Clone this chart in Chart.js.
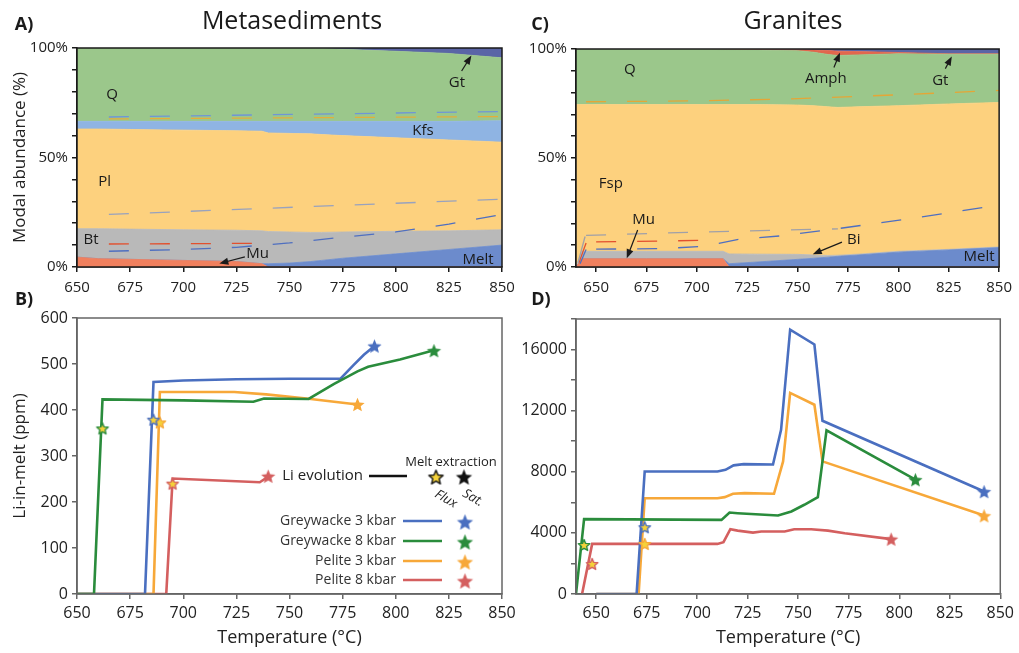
<!DOCTYPE html>
<html>
<head>
<meta charset="utf-8">
<script src="https://cdn.jsdelivr.net/npm/chart.js@4.4.0/dist/chart.umd.min.js"></script>
<style>
  html, body { margin: 0; padding: 0; background: #fff; }
  #wrap { position: relative; width: 1019px; height: 653px; overflow: hidden;
          font-family: "Open Sans", sans-serif; color: #1a1a1a; }
  #wrap canvas { position: absolute; left: 0; top: 0; }
  .t { position: absolute; transform: translate(-50%, -50%); white-space: nowrap; }
  .panel { font-weight: 700; font-size: 18px; }
  .title { font-size: 25px; }
</style>
</head>
<body>
<div id="wrap">
  <canvas id="cA" width="1019" height="653"></canvas>
  <canvas id="cC" width="1019" height="653"></canvas>
  <canvas id="cB" width="1019" height="653"></canvas>
  <canvas id="cD" width="1019" height="653"></canvas>
  <div class="t panel" style="left:24px;top:23px">A)</div>
  <div class="t title" style="left:292px;top:19px">Metasediments</div>
  <div class="t panel" style="left:540px;top:23px">C)</div>
  <div class="t title" style="left:793px;top:19px">Granites</div>
  <div class="t panel" style="left:24px;top:298px">B)</div>
  <div class="t panel" style="left:541px;top:298px">D)</div>
</div>
<script>
// ---------- axis ticks ----------
const tempTicks = [650, 675, 700, 725, 750, 775, 800, 825, 850];
const modalTicks = [0, 10, 20, 30, 40, 50, 60, 70, 80, 90, 100];
const modalLabelled = [0, 50, 100];
const liTicksB = [0, 100, 200, 300, 400, 500, 600];
const liTicksD = [0, 2000, 4000, 6000, 8000, 10000, 12000, 14000, 16000, 18000];
const liLabelledD = [0, 4000, 8000, 12000, 16000];

// ---------- A) Metasediments: modal abundance (%) per phase ----------
const metaT    = [650, 660, 675, 700, 725, 737, 740, 750, 760, 765, 775, 800, 825, 850];
const metaMu   = [4.5, 3.8, 3.5, 3.0, 2.5, 1.5, 0, 0, 0, 0, 0, 0, 0, 0];
const metaMelt = [0, 0, 0, 0, 0, 0, 1.5, 1.8, 2.5, 3.0, 4.0, 6.0, 8.0, 10.0];
const metaBt   = [13.0, 13.7, 13.8, 14.0, 14.3, 15.0, 14.7, 14.2, 13.3, 12.8, 12.0, 10.3, 8.5, 7.0];
const metaPl   = [45.5, 45.5, 45.5, 45.5, 45.4, 45.5, 45.0, 45.0, 45.0, 44.7, 44.0, 42.7, 41.5, 40.0];
const metaKfs  = [3.5, 3.5, 3.7, 4.0, 4.3, 4.5, 5.3, 5.5, 5.7, 6.0, 6.5, 7.5, 8.5, 9.8];
const metaQ    = [33.5, 33.5, 33.5, 33.5, 33.5, 33.5, 33.5, 33.5, 33.5, 33.3, 32.9, 32.0, 31.0, 28.7];
const metaGt   = [0, 0, 0, 0, 0, 0, 0, 0, 0, 0.2, 0.6, 1.5, 2.5, 4.5];
// dashed phase boundaries drawn over the areas
const metaDashBlueHi = [[665, 68.5], [850, 71.0]];
const metaDashGoldHi = [[665, 67.6], [850, 68.7]];
const metaDashGrey   = [[665, 24.0], [850, 31.0]];
const metaDashRed    = [[665, 10.5], [735, 10.8]];
const metaDashBlueLo = [[665, 7.2], [700, 8.0], [725, 9.0], [750, 11.0], [775, 13.6], [800, 16.0], [825, 19.6], [850, 24.0]];

// ---------- C) Granites: modal abundance (%) per phase ----------
const granT    = [640, 643, 675, 700, 713, 716, 730, 750, 758, 765, 770, 780, 800, 825, 850];
const granMu   = [0, 3.8, 3.8, 3.8, 3.8, 0, 0, 0, 0, 0, 0, 0, 0, 0, 0];
const granMelt = [0, 0, 0, 0, 0, 1.5, 2.3, 3.5, 4.0, 4.5, 4.9, 5.5, 6.8, 7.8, 8.9];
const granBi   = [0, 3.4, 3.4, 3.4, 3.4, 4.5, 3.6, 2.3, 1.5, 0.8, 0.5, 0.4, 0.4, 0.3, 0.3];
const granFsp  = [74.5, 67.3, 67.3, 67.3, 67.3, 68.5, 68.6, 68.5, 68.5, 68.2, 67.8, 67.6, 66.8, 66.7, 66.3];
const granQ    = [25.5, 25.5, 25.5, 25.5, 25.2, 25.1, 25.0, 24.9, 24.5, 24.0, 23.8, 23.8, 23.8, 22.8, 22.1];
const granAmph = [0, 0, 0, 0, 0, 0.2, 0.2, 0.4, 1.0, 1.8, 2.0, 1.5, 0.6, 0.2, 0.2];
const granGt   = [0, 0, 0, 0, 0.3, 0.2, 0.3, 0.4, 0.5, 0.7, 1.0, 1.2, 1.6, 2.2, 2.2];
const granDashGold = [[645, 75.8], [700, 76.2], [750, 77.2], [800, 79.0], [850, 81.0]];
const granDashGrey = [[645, 14.5], [700, 16.0], [770, 17.5]];
const granDashRed  = [[650, 11.5], [710, 12.3]];
const granDashBlue = [[650, 8.2], [682, 8.4], [704, 9.5], [720, 12.6], [742, 14.3], [770, 17.6], [803, 21.8], [850, 28.4]];
// short solid starts of the boundaries at the solidus edge
const granEdgeGrey = [[641, 2], [644.5, 14]];
const granEdgeRed  = [[641.5, 2], [645, 11]];
const granEdgeBlue = [[642, 1.5], [645, 8]];

// ---------- B) Li-in-melt (ppm), metasediments ----------
const gw3B = [[650, 0], [682, 0], [686, 461], [700, 464], [725, 467], [750, 468], [774, 468], [780, 497], [785, 520], [790, 539]];
const gw8B = [[650, 0], [658, 0], [662, 423], [700, 421], [733, 418], [738, 425], [759, 424], [771, 457], [782, 484], [787, 494], [802, 510], [818, 530]];
const pe3B = [[650, 0], [686, 0], [689, 439], [710, 439], [724, 439], [739, 434], [758, 425], [782, 412]];
const pe8B = [[650, 0], [692, 0], [695, 251], [736, 243], [740, 255]];
const satB  = { gw3: [790, 539], gw8: [818, 529], pe3: [782, 412], pe8: [740, 256] };
const fluxB = { gw3: [686, 379], gw8: [662, 360], pe3: [689, 373], pe8: [695, 240] };

// ---------- D) Li-in-melt (ppm), granites ----------
const gw3D = [[650, 0], [670, 0], [674, 8020], [710, 8020], [714, 8130], [718, 8420], [723, 8500], [737.5, 8480], [741.5, 10750], [746, 17300], [758, 16330], [762, 11340], [842, 6710]];
const gw8D = [[640, 0], [644, 4900], [712, 4850], [716, 5330], [720, 5290], [740, 5140], [746.6, 5400], [753, 5840], [759.7, 6340], [764, 10710], [808, 7480]];
const pe3D = [[650, 0], [671, 0], [674, 6270], [710, 6270], [713.6, 6340], [717.7, 6560], [723.5, 6600], [738, 6560], [742.5, 8680], [746, 13160], [758, 12390], [762, 8680], [842, 5140]];
const pe8D = [[643, 0], [648, 3280], [710, 3280], [713, 3390], [716.4, 4240], [720, 4150], [727.6, 4020], [731.7, 4090], [743.3, 4090], [748, 4240], [756.4, 4240], [764.7, 4150], [773, 3980], [796, 3590]];
const satD  = { gw3: [842, 6700], gw8: [808, 7480], pe3: [842, 5120], pe8: [796, 3590] };
const fluxD = { gw3: [674, 4370], gw8: [644, 3210], pe3: [674, 3280], pe8: [648, 1970] };

const seriesNames = ['Greywacke 3 kbar', 'Greywacke 8 kbar', 'Pelite 3 kbar', 'Pelite 8 kbar'];

// ---------- styling ----------
const FONT = '"Open Sans", sans-serif';
const COL = { gw3: '#4a6fc0', gw8: '#2a8c3c', pe3: '#f7a839', pe8: '#d45f5f' };
const FLUX_FILL = '#f5d23a';
const PHASE = {
  Q: '#9bc78b', Kfs: '#8fb4e3', Pl: '#fdd17e', Bt: '#b9b9b9', Mu: '#f0805e',
  Melt: '#6c8bcc', Gt: '#5a65a6', Amph: '#e2674e'
};

function star(R, fill, stroke, lw) {
  const pad = Math.ceil(lw || 0) + 1;
  const s = Math.ceil(2 * R) + 2 * pad;
  const c = document.createElement('canvas');
  c.width = s; c.height = s;
  const g = c.getContext('2d');
  const cx = s / 2, cy = s / 2 + R * 0.1;
  g.beginPath();
  for (let k = 0; k < 10; k++) {
    const r = k % 2 ? R * 0.45 : R;
    const a = -Math.PI / 2 + k * Math.PI / 5;
    g.lineTo(cx + r * Math.cos(a), cy + r * Math.sin(a));
  }
  g.closePath();
  g.fillStyle = fill; g.fill();
  if (stroke) { g.strokeStyle = stroke; g.lineWidth = lw; g.lineJoin = 'round'; g.stroke(); }
  return c;
}

const pts = arr => arr.map(p => ({ x: p[0], y: p[1] }));
const zipT = (T, v) => T.map((t, i) => ({ x: t, y: v[i] }));

function frame(color) {
  return {
    id: 'frame',
    afterDraw(chart) {
      const a = chart.chartArea, ctx = chart.ctx;
      ctx.save();
      ctx.strokeStyle = color; ctx.lineWidth = 1.5;
      ctx.strokeRect(a.left, a.top, a.right - a.left, a.bottom - a.top);
      ctx.restore();
    }
  };
}

// text labels and arrows placed in data coordinates
function notes(texts, arrows) {
  return {
    id: 'notes',
    afterDraw(chart) {
      const ctx = chart.ctx, sx = chart.scales.x, sy = chart.scales.y;
      ctx.save();
      ctx.fillStyle = '#1a1a1a';
      ctx.textAlign = 'center'; ctx.textBaseline = 'middle';
      ctx.font = '15px ' + FONT;
      texts.forEach(t => ctx.fillText(t[0], sx.getPixelForValue(t[1]), sy.getPixelForValue(t[2])));
      arrows.forEach(a => {
        const x1 = sx.getPixelForValue(a[0]), y1 = sy.getPixelForValue(a[1]);
        const x2 = sx.getPixelForValue(a[2]), y2 = sy.getPixelForValue(a[3]);
        const ang = Math.atan2(y2 - y1, x2 - x1);
        ctx.strokeStyle = '#1a1a1a'; ctx.lineWidth = 1.2;
        ctx.beginPath(); ctx.moveTo(x1, y1);
        ctx.lineTo(x2 - 6 * Math.cos(ang), y2 - 6 * Math.sin(ang)); ctx.stroke();
        ctx.beginPath();
        ctx.moveTo(x2, y2);
        ctx.lineTo(x2 - 9 * Math.cos(ang) + 3.5 * Math.sin(ang), y2 - 9 * Math.sin(ang) - 3.5 * Math.cos(ang));
        ctx.lineTo(x2 - 9 * Math.cos(ang) - 3.5 * Math.sin(ang), y2 - 9 * Math.sin(ang) + 3.5 * Math.cos(ang));
        ctx.closePath(); ctx.fill();
      });
      ctx.restore();
    }
  };
}

function xAxis(min, color, fontSize, H, pad, title) {
  return {
    type: 'linear', min: min, max: 850,
    afterBuildTicks: s => { s.ticks = tempTicks.map(v => ({ value: v })); },
    afterFit: s => { s.height = H; },
    grid: { drawOnChartArea: false, tickLength: 5, color: color, lineWidth: 1.5 },
    border: { color: color, width: 1.5 },
    ticks: { font: { family: FONT, size: fontSize }, color: '#222', padding: pad, maxRotation: 0, autoSkip: false,
             callback: v => String(v) },
    title: title ? { display: true, text: title, font: { family: FONT, size: 18 }, color: '#222',
                     padding: { top: 4, bottom: 4 } } : { display: false }
  };
}

function yAxis(ticks, labelFn, color, fontSize, W, title, extra) {
  return Object.assign({
    afterBuildTicks: s => { s.ticks = ticks.map(v => ({ value: v })); },
    afterFit: s => { s.width = W; },
    grid: { drawOnChartArea: false, tickLength: 5, color: color, lineWidth: 1.5 },
    border: { color: color, width: 1.5 },
    ticks: { font: { family: FONT, size: fontSize }, color: '#222', padding: 4, autoSkip: false, callback: labelFn },
    title: title ? { display: true, text: title, font: { family: FONT, size: 17 }, color: '#222',
                     padding: { top: 4, bottom: 4 } } : { display: false }
  }, extra);
}

function area(label, T, vals, color, first) {
  return { label, data: zipT(T, vals), backgroundColor: color, borderColor: color, borderWidth: 0.8,
           fill: first ? 'origin' : '-1', pointRadius: 0, tension: 0, yAxisID: 'y' };
}
// boundary lines sit on an unstacked twin axis and are drawn above the areas
function dash(data, color, solid) {
  return { data: pts(data), borderColor: color, borderWidth: 1.3, borderDash: solid ? [] : [20, 21], fill: false,
           pointRadius: 0, tension: 0, yAxisID: 'y2', order: -1 };
}

const common = {
  responsive: false, animation: false, devicePixelRatio: 1,
  plugins: { legend: { display: false }, tooltip: { enabled: false } },
  events: []
};

// ---------- A) ----------
new Chart(document.getElementById('cA'), {
  type: 'line',
  data: { datasets: [
    area('Mu', metaT, metaMu, PHASE.Mu, true),
    area('Melt', metaT, metaMelt, PHASE.Melt),
    area('Bt', metaT, metaBt, PHASE.Bt),
    area('Pl', metaT, metaPl, PHASE.Pl),
    area('Kfs', metaT, metaKfs, PHASE.Kfs),
    area('Q', metaT, metaQ, PHASE.Q),
    area('Gt', metaT, metaGt, PHASE.Gt),
    dash(metaDashBlueHi, '#6f96d6'),
    dash(metaDashGoldHi, '#e5ad3a'),
    dash(metaDashGrey, '#98a2be'),
    dash(metaDashRed, '#e2502e'),
    dash(metaDashBlueLo, '#4f6fc0')
  ]},
  options: Object.assign({}, common, {
    layout: { padding: { left: 6, right: 517, top: 48, bottom: 356 } },
    scales: {
      x: xAxis(650, '#1a1a1a', 15, 30, 7),
      y: yAxis(modalTicks, v => modalLabelled.includes(v) ? v + '%' : '', '#1a1a1a', 15, 71,
               'Modal abundance (%)', { min: 0, max: 100, stacked: true }),
      y2: { display: false, min: 0, max: 100 }
    }
  }),
  plugins: [frame('#1a1a1a'), notes(
    [['Q', 666.5, 78.5], ['Pl', 663, 38.8], ['Bt', 656.6, 12.3], ['Mu', 735, 5.9],
     ['Kfs', 812.8, 62.1], ['Gt', 828.8, 84], ['Melt', 838.7, 3.2]],
    [[729, 4.6, 717, 1.6], [831, 89.5, 835.6, 96.6]]
  )]
});

// ---------- C) ----------
new Chart(document.getElementById('cC'), {
  type: 'line',
  data: { datasets: [
    area('Mu', granT, granMu, PHASE.Mu, true),
    area('Melt', granT, granMelt, PHASE.Melt),
    area('Bi', granT, granBi, PHASE.Bt),
    area('Fsp', granT, granFsp, PHASE.Pl),
    area('Q', granT, granQ, PHASE.Q),
    area('Amph', granT, granAmph, PHASE.Amph),
    area('Gt', granT, granGt, PHASE.Gt),
    dash(granDashGold, '#e5a636'),
    dash(granDashGrey, '#a0a0a8'),
    dash(granDashRed, '#e2502e'),
    dash(granDashBlue, '#4f6fc0'),
    dash(granEdgeGrey, '#a0a0a8', true),
    dash(granEdgeRed, '#e2502e', true),
    dash(granEdgeBlue, '#4f6fc0', true)
  ]},
  options: Object.assign({}, common, {
    layout: { padding: { left: 506, right: 18, top: 49, bottom: 356 } },
    scales: {
      x: xAxis(640, '#1a1a1a', 15, 30, 7),
      y: yAxis(modalTicks, v => modalLabelled.includes(v) ? v + '%' : '', '#1a1a1a', 15, 70,
               null, { min: 0, max: 100, stacked: true }),
      y2: { display: false, min: 0, max: 100 }
    }
  }),
  plugins: [frame('#1a1a1a'), notes(
    [['Q', 666.7, 90.4], ['Amph', 764, 86.2], ['Gt', 820.8, 85.3], ['Fsp', 657.3, 38.1],
     ['Mu', 673.6, 21.6], ['Bi', 777.9, 12.4], ['Melt', 840, 4.6]],
    [[768, 91.5, 771, 98.3], [823.3, 91, 826.5, 96.6], [670.6, 17, 665.2, 4.0], [772, 11.4, 757.5, 5.9]]
  )]
});

// ---------- B) and D) line charts ----------
function liSets(lines, sat, flux, rEnd, rFlux) {
  const keys = ['gw8', 'gw3', 'pe3', 'pe8'];
  const sets = [];
  keys.forEach(k => {
    sets.push({ data: pts([sat[k]]), showLine: false, pointStyle: star(rEnd, COL[k]), pointRadius: 5 });
    sets.push({ data: pts([flux[k]]), showLine: false, pointStyle: star(rFlux, FLUX_FILL, COL[k], 1.4), pointRadius: 5 });
  });
  keys.forEach(k => {
    sets.push({ data: pts(lines[k]), borderColor: COL[k], borderWidth: 2.6, pointRadius: 0, fill: false, tension: 0 });
  });
  return sets;
}

const legendB = {
  id: 'legendB',
  afterDraw(chart) {
    const ctx = chart.ctx;
    ctx.save();
    ctx.fillStyle = '#222'; ctx.textBaseline = 'middle';
    ctx.font = '13px ' + FONT; ctx.textAlign = 'center';
    ctx.fillText('Melt extraction', 451, 462);
    ctx.font = '15px ' + FONT; ctx.textAlign = 'right';
    ctx.fillText('Li evolution', 363, 476);
    ctx.strokeStyle = '#111'; ctx.lineWidth = 2.6;
    ctx.beginPath(); ctx.moveTo(369, 476); ctx.lineTo(407, 476); ctx.stroke();
    const fs = star(7.5, FLUX_FILL, '#111', 1.4), ss = star(8.5, '#111');
    ctx.drawImage(fs, 436 - fs.width / 2, 477 - fs.height / 2);
    ctx.drawImage(ss, 464 - ss.width / 2, 477 - ss.height / 2);
    ctx.font = 'italic 13px ' + FONT; ctx.textAlign = 'center';
    [['Flux', 446, 499], ['Sat.', 473, 498]].forEach(t => {
      ctx.save(); ctx.translate(t[1], t[2]); ctx.rotate(Math.PI / 6); ctx.fillText(t[0], 0, 0); ctx.restore();
    });
    const keys = ['gw3', 'gw8', 'pe3', 'pe8'], rows = [521, 541, 561, 580];
    ctx.font = '14px ' + FONT; ctx.textAlign = 'right';
    keys.forEach((k, i) => {
      ctx.fillStyle = '#333';
      ctx.fillText(seriesNames[i], 396, rows[i]);
      ctx.strokeStyle = COL[k]; ctx.lineWidth = 2.6;
      ctx.beginPath(); ctx.moveTo(403, rows[i]); ctx.lineTo(442, rows[i]); ctx.stroke();
      const s = star(8.5, COL[k]);
      ctx.drawImage(s, 465 - s.width / 2, rows[i] + 1 - s.height / 2);
    });
    ctx.restore();
  }
};

new Chart(document.getElementById('cB'), {
  type: 'line',
  data: { datasets: liSets({ gw3: gw3B, gw8: gw8B, pe3: pe3B, pe8: pe8B }, satB, fluxB, 7.5, 6) },
  options: Object.assign({}, common, {
    layout: { padding: { left: 6, right: 517, top: 318, bottom: 0 } },
    scales: {
      x: xAxis(650, '#666', 16, 59, 5, 'Temperature (°C)'),
      y: yAxis(liTicksB, v => String(v), '#666', 16, 71, 'Li-in-melt (ppm)', { min: 0, max: 600 })
    }
  }),
  plugins: [frame('#666'), legendB]
});

new Chart(document.getElementById('cD'), {
  type: 'line',
  data: { datasets: liSets({ gw3: gw3D, gw8: gw8D, pe3: pe3D, pe8: pe8D }, satD, fluxD, 7.5, 6) },
  options: Object.assign({}, common, {
    layout: { padding: { left: 506, right: 18, top: 319, bottom: 0 } },
    scales: {
      x: xAxis(640, '#666', 16, 59, 5, 'Temperature (°C)'),
      y: yAxis(liTicksD, v => liLabelledD.includes(v) ? String(v) : '', '#666', 16, 70, null, { min: 0, max: 18000 })
    }
  }),
  plugins: [frame('#666')]
});
</script>
</body>
</html>
